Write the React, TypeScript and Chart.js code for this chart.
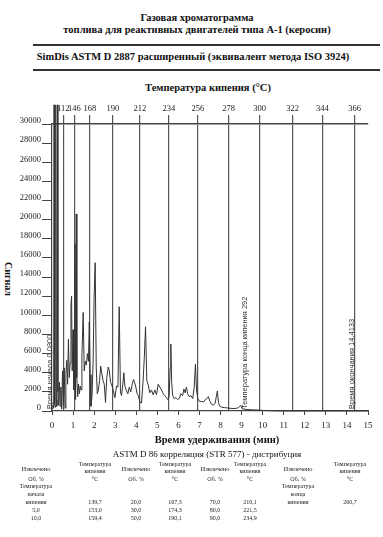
import React, { useEffect, useRef } from "react";
import { Chart, registerables } from "chart.js";

Chart.register(...registerables);

// ---- data ----
const retentionTime = [
  0.0, 0.04, 0.08, 0.1, 0.12, 0.15, 0.18, 0.2, 0.23, 0.26, 0.28, 0.31, 0.35, 0.38, 0.42, 0.46, 0.5, 0.54,
  0.58, 0.62, 0.66, 0.7, 0.74, 0.78, 0.82, 0.86, 0.9, 0.93, 0.96, 1.0, 1.03, 1.06, 1.09, 1.12, 1.15, 1.18,
  1.22, 1.26, 1.3, 1.34, 1.38, 1.42, 1.48, 1.53, 1.58, 1.63, 1.68, 1.73, 1.77, 1.81, 1.85, 1.9, 1.95, 2.0,
  2.05, 2.1, 2.15, 2.2, 2.26, 2.31, 2.36, 2.42, 2.48, 2.54, 2.6, 2.67, 2.72, 2.78, 2.84, 2.9, 2.99, 3.06,
  3.13, 3.19, 3.25, 3.3, 3.36, 3.41, 3.46, 3.52, 3.6, 3.67, 3.74, 3.8, 3.87, 3.92, 3.98, 4.04, 4.1, 4.18,
  4.25, 4.32, 4.38, 4.44, 4.5, 4.57, 4.64, 4.72, 4.8, 4.88, 4.96, 5.04, 5.12, 5.2, 5.28, 5.36, 5.43, 5.5,
  5.56, 5.61, 5.64, 5.68, 5.73, 5.8, 5.88, 5.96, 6.04, 6.12, 6.2, 6.26, 6.32, 6.38, 6.44, 6.52, 6.6, 6.68,
  6.75, 6.81, 6.86, 6.92, 7.0, 7.1, 7.2, 7.28, 7.36, 7.42, 7.5, 7.58, 7.66, 7.74, 7.8, 7.85, 7.9, 7.96,
  8.05, 8.2, 8.4, 8.6, 8.8, 8.9, 8.96, 9.02, 9.1, 9.3, 9.5, 9.8, 10.0, 10.5, 11, 12, 13, 14, 15,
];
const signal = [
  200, 600, 300, 32000, 800, 400, 32000, 1200, 500, 32000, 2000, 600, 3000, 500, 2500, 200, 4200, 600,
  4500, 300, 3800, 5300, 2800, 7500, 3500, 5000, 11000, 12000, 4200, 8500, 2200, 4000, 17500, 1200, 20600, 3500,
  1500, 2800, 1800, 2600, 2200, 5800, 10300, 4200, 5200, 4800, 6000, 5200, 9300, 3800, 500, 1600, 5000, 12000,
  15500, 4500, 1800, 2200, 3200, 4700, 4000, 3200, 2800, 900, 3500, 4600, 4200, 3000, 2700, 2200, 1400, 2600,
  2500, 10900, 2000, 1600, 2800, 4000, 2600, 2200, 1800, 2500, 2000, 2700, 3300, 3000, 2500, 1800, 1600, 900,
  850, 3000, 5500, 8800, 3200, 2700, 1900, 2200, 1700, 2200, 1700, 2800, 2500, 2200, 1800, 1600, 1400, 1200,
  1500, 4500, 7000, 3000, 1600, 1300, 1400, 1200, 1300, 1800, 1600, 2300, 1900, 2500, 1800, 1500, 1600, 1300,
  2500, 4900, 2200, 1300, 1000, 1000, 950, 1200, 1300, 1500, 1000, 700, 600, 800, 1500, 2100, 900, 500,
  400, 350, 300, 250, 300, 450, 600, 250, 200, 150, 120, 100, 60, 20, 0, 0, 0, 0, 0,
];
const boilingTemps = [112, 146, 168, 190, 212, 234, 256, 278, 300, 322, 344, 366];
const boilingTimes = [0.54, 1.06, 1.8, 2.89, 4.17, 5.55, 6.92, 8.39, 9.86, 11.42, 12.84, 14.36];
const markerTimes = [0.08, 9.33, 14.41];
const markerTexts = ["Время начала 0,0800", "Температура конца кипения 292", "Время окончания 14,4133"];

const tableHeaders = [["Извлечено"], ["Температура", "кипения"], ["Извлечено"], ["Температура", "кипения"], ["Извлечено"], ["Температура", "кипения"], ["Извлечено"], ["Температура", "кипения"]];
const tableUnits = ["Об. %", "°C", "Об. %", "°C", "Об. %", "°C", "Об. %", "°C"];
const tableRow1 = [["Температура", "начала", "кипения"], ["139,7"], ["20,0"], ["167,3"], ["70,0"], ["210,1"], ["Температура", "конца", "кипения"], ["260,7"]];
const tableRow2 = ["5,0", "153,0", "30,0", "174,3", "80,0", "221,5", "", ""];
const tableRow3 = ["10,0", "159,4", "50,0", "190,1", "90,0", "234,9", "", ""];

const SERIF = "'Liberation Serif', 'Times New Roman', serif";
const SANS = "'Liberation Sans', Arial, sans-serif";
const INK = "#333";

const colCenters = [36, 95, 136, 175, 215, 250, 298, 350];

const markerPlugin = {
  id: "markerTexts",
  afterDatasetsDraw(chart: any) {
    const { ctx, scales } = chart;
    const xs = scales.x;
    const ys = scales.y;
    ctx.save();
    ctx.fillStyle = INK;
    ctx.font = `7.5px ${SANS}`;
    ctx.textAlign = "left";
    ctx.textBaseline = "bottom";
    markerTimes.forEach((t, i) => {
      const px = xs.getPixelForValue(t);
      const py = ys.getPixelForValue(0) - 2;
      ctx.save();
      ctx.translate(px, py);
      ctx.rotate(-Math.PI / 2);
      ctx.fillText(markerTexts[i], 0, 0);
      ctx.restore();
    });
    ctx.restore();
  },
};

function ChromChart() {
  const ref = useRef<HTMLCanvasElement>(null);
  useEffect(() => {
    if (!ref.current) return;
    const chart = new Chart(ref.current, {
      type: "line",
      data: {
        datasets: [
          {
            data: retentionTime.map((t, i) => ({ x: t, y: signal[i] })),
            borderColor: INK,
            borderWidth: 1,
            pointRadius: 0,
            tension: 0,
            clip: false as any,
          },
        ],
      },
      options: {
        responsive: false,
        animation: false,
        devicePixelRatio: 1,
        layout: { padding: { left: 0, right: 15, top: 0, bottom: 0 } },
        plugins: { legend: { display: false }, tooltip: { enabled: false } },
        scales: {
          x: {
            type: "linear",
            position: "bottom",
            min: 0,
            max: 15,
            afterFit: (s: any) => { s.height = 25; },
            ticks: { stepSize: 1, color: "#222", font: { family: SERIF, size: 9 }, padding: 5, callback: (v: any) => String(v) },
            grid: { drawOnChartArea: false, drawTicks: true, tickLength: 4, color: "#444" },
            border: { color: "#444", width: 1.2 },
          },
          xTop: {
            type: "linear",
            position: "top",
            min: 0,
            max: 15,
            afterFit: (s: any) => { s.height = 28; },
            afterBuildTicks: (s: any) => { s.ticks = boilingTimes.map((v) => ({ value: v })); },
            ticks: {
              autoSkip: false,
              maxRotation: 0,
              color: "#222",
              font: { family: SERIF, size: 8.5 },
              padding: 1,
              callback: (_v: any, i: number) => String(boilingTemps[i]),
            },
            grid: { drawOnChartArea: true, drawTicks: true, tickLength: 9, color: "#555", lineWidth: 1.2 },
            border: { color: "#444", width: 1.5 },
          },
          y: {
            type: "linear",
            min: 0,
            max: 30000,
            afterFit: (s: any) => { s.width = 52; },
            ticks: { stepSize: 2000, color: "#222", font: { family: SERIF, size: 8.5 }, padding: 1, labelOffset: -3, callback: (v: any) => String(v) },
            grid: { drawOnChartArea: false, drawTicks: true, tickLength: 10, color: "#444" },
            border: { color: "#444", width: 1.2 },
          },
        },
      },
      plugins: [markerPlugin],
    });
    return () => chart.destroy();
  }, []);
  return <canvas ref={ref} width={383} height={340} style={{ position: "absolute", left: 0, top: 96, width: 383, height: 340 }} />;
}

const centered = (cx: number, cy: number, style: React.CSSProperties = {}): React.CSSProperties => ({
  position: "absolute",
  left: cx - 200,
  width: 400,
  top: cy,
  transform: "translateY(-50%)",
  textAlign: "center",
  whiteSpace: "nowrap",
  lineHeight: 1,
  ...style,
});

function Cell({ cx, cy, lines, size = 6, lh = 8 }: { cx: number; cy: number; lines: string[]; size?: number; lh?: number }) {
  return (
    <div style={{ position: "absolute", left: cx - 30, width: 60, top: cy, transform: "translateY(-50%)", textAlign: "center", fontFamily: SERIF, fontSize: size, lineHeight: `${lh}px`, color: "#222", whiteSpace: "nowrap" }}>
      {lines.map((l, k) => (
        <div key={k}>{l}</div>
      ))}
    </div>
  );
}

export default function App() {
  return (
    <div style={{ position: "absolute", left: 0, top: 0, width: 383, height: 537, background: "#fff", fontFamily: SERIF, color: "#111", overflow: "hidden" }}>
      <div style={centered(197, 18, { fontWeight: "bold", fontSize: 10.5 })}>Газовая хроматограмма</div>
      <div style={centered(197, 30, { fontWeight: "bold", fontSize: 10.5 })}>топлива для реактивных двигателей типа А-1 (керосин)</div>
      <div style={{ position: "absolute", left: 33, width: 347, top: 44, height: 2, background: "#333" }} />
      <div style={centered(193, 57, { fontWeight: "bold", fontSize: 10.5 })}>SimDis ASTM D 2887 расширенный (эквивалент метода ISO 3924)</div>
      <div style={{ position: "absolute", left: 33, width: 347, top: 69, height: 2, background: "#333" }} />
      <div style={centered(208, 88, { fontWeight: "bold", fontSize: 10.5 })}>Температура кипения (°C)</div>
      <div style={{ position: "absolute", left: 3, top: 262, writingMode: "vertical-rl", fontWeight: "bold", fontSize: 10, fontFamily: SERIF, lineHeight: 1 }}>Сигнал</div>
      <ChromChart />
      <div style={centered(217, 440, { fontWeight: "bold", fontSize: 10.5 })}>Время удерживания (мин)</div>
      <div style={centered(207, 454, { fontSize: 9 })}>ASTM D 86 корреляция (STR 577) - дистрибуция</div>
      {tableHeaders.map((h, i) => (
        <Cell key={"h" + i} cx={colCenters[i]} cy={468} lines={h} size={i % 2 === 0 ? 6.5 : 6} lh={7} />
      ))}
      {tableUnits.map((h, i) => (
        <Cell key={"u" + i} cx={colCenters[i]} cy={479} lines={[h]} />
      ))}
      {tableRow1.map((v, i) => (
        <Cell key={"a" + i} cx={colCenters[i]} cy={v.length > 1 ? 494 : 502} lines={v} />
      ))}
      {tableRow2.map((v, i) => (v ? <Cell key={"b" + i} cx={colCenters[i]} cy={510} lines={[v]} /> : null))}
      {tableRow3.map((v, i) => (v ? <Cell key={"c" + i} cx={colCenters[i]} cy={518} lines={[v]} /> : null))}
    </div>
  );
}
